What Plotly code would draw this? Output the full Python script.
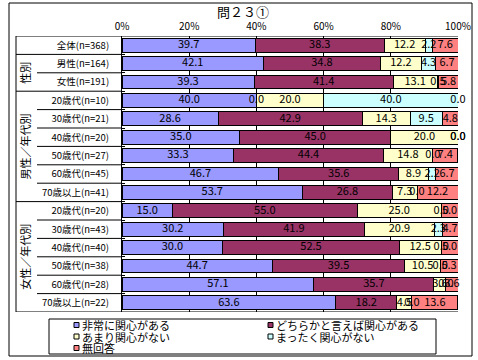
import plotly.graph_objects as go

title = "問２３①"
categories = ["全体(n=368)", "男性(n=164)", "女性(n=191)",
              "20歳代(n=10)", "30歳代(n=21)", "40歳代(n=20)", "50歳代(n=27)", "60歳代(n=45)", "70歳以上(n=41)",
              "20歳代(n=20)", "30歳代(n=43)", "40歳代(n=40)", "50歳代(n=38)", "60歳代(n=28)", "70歳以上(n=22)"]
group_names = ["", "性別", "男性／年代別", "女性／年代別"]
group_sizes = [1, 2, 6, 6]
series_names = ["非常に関心がある", "どちらかと言えば関心がある", "あまり関心がない", "まったく関心がない", "無回答"]
colors = ["#9999FF", "#993366", "#FFFFCC", "#CCFFFF", "#FF8080"]
very = [39.7, 42.1, 39.3, 40.0, 28.6, 35.0, 33.3, 46.7, 53.7, 15.0, 30.2, 30.0, 44.7, 57.1, 63.6]
somewhat = [38.3, 34.8, 41.4, 0.0, 42.9, 45.0, 44.4, 35.6, 26.8, 55.0, 41.9, 52.5, 39.5, 35.7, 18.2]
notmuch = [12.2, 12.2, 13.1, 20.0, 14.3, 20.0, 14.8, 8.9, 7.3, 25.0, 20.9, 12.5, 10.5, 3.6, 4.5]
notatall = [2.2, 4.3, 0.5, 40.0, 9.5, 0.0, 0.0, 2.2, 0.0, 0.0, 2.3, 0.0, 0.0, 0.0, 0.0]
noanswer = [7.6, 6.7, 5.8, 0.0, 4.8, 0.0, 7.4, 6.7, 12.2, 5.0, 4.7, 5.0, 5.3, 3.6, 13.6]
x_ticks = [0, 20, 40, 60, 80, 100]
x_ticktext = ["0%", "20%", "40%", "60%", "80%", "100%"]

series = [very, somewhat, notmuch, notatall, noanswer]
FONT = "Noto Sans CJK JP"

# plot area in pixels: x 122..458, y 36..312
L, R, T, B = 122, 458, 36, 312
W, H = 478, 360
def px(x):
    return (x - L) / (R - L)
def py(y):
    return (B - y) / (B - T)

fig = go.Figure()
for name, vals, col in zip(series_names, series, colors):
    fig.add_trace(go.Bar(y=categories, x=vals, name=name, orientation="h",
                         marker=dict(color=col, line=dict(color="black", width=1)),
                         showlegend=False, hoverinfo="skip"))

# data labels at segment centres
cum = [0.0] * len(categories)
for vals in series:
    mids = [c + v / 2 for c, v in zip(cum, vals)]
    fig.add_trace(go.Scatter(y=categories, x=mids, mode="text",
                             text=["%.1f" % v for v in vals],
                             textfont=dict(family=FONT, size=11, color="black"),
                             showlegend=False, hoverinfo="skip", cliponaxis=False))
    cum = [c + v for c, v in zip(cum, vals)]

shapes = []
annotations = []
n = len(categories)
group_bounds = [-0.5]
acc = -0.5
for s in group_sizes:
    acc += s
    group_bounds.append(acc)
for i in range(n + 1):
    yb = i - 0.5
    is_group = any(abs(yb - g) < 1e-9 for g in group_bounds)
    x0 = px(16) if is_group else px(37)
    x1 = 1 if (i == 0 or i == n) else 0
    shapes.append(dict(type="line", xref="paper", yref="y", x0=x0, x1=x1, y0=yb, y1=yb,
                       line=dict(color="black", width=1)))
shapes.append(dict(type="line", xref="paper", yref="y", x0=px(16), x1=px(16), y0=-0.5, y1=n - 0.5,
                   line=dict(color="black", width=1)))
start = -0.5
for gname, s in zip(group_names, group_sizes):
    if gname:
        annotations.append(dict(text=gname, xref="paper", yref="y", x=px(25), y=start + s / 2,
                                xanchor="center", yanchor="middle",
                                textangle=-90, showarrow=False,
                                font=dict(family=FONT, size=11, color="black")))
    start += s

shapes.append(dict(type="rect", xref="paper", yref="paper", x0=px(9), x1=px(472), y0=py(356), y1=py(3),
                   line=dict(color="black", width=1), fillcolor="rgba(0,0,0,0)"))
shapes.append(dict(type="rect", xref="paper", yref="paper", x0=px(49), x1=px(436), y0=py(354), y1=py(319),
                   line=dict(color="black", width=1), fillcolor="rgba(0,0,0,0)"))
leg_cols = [74, 268]
leg_rows = [325, 336.5, 348]
for i, (name, col) in enumerate(zip(series_names, colors)):
    cx = leg_cols[i % 2]
    cy = leg_rows[i // 2]
    shapes.append(dict(type="rect", xref="paper", yref="paper", x0=px(cx), x1=px(cx + 5),
                       y0=py(cy + 2.5), y1=py(cy - 2.5), line=dict(color="black", width=1), fillcolor=col))
    annotations.append(dict(text=name, xref="paper", yref="paper", x=px(cx + 6), y=py(cy),
                            xanchor="left", yanchor="middle", showarrow=False,
                            font=dict(family=FONT, size=11, color="black")))

fig.update_layout(
    width=W, height=H, barmode="stack", bargap=0.24,
    margin=dict(l=L, r=W - R, t=T, b=H - B, autoexpand=False),
    paper_bgcolor="white", plot_bgcolor="white",
    title=dict(text=title, x=243 / W, xref="container", xanchor="center",
               y=1 - 12 / H, yref="container", yanchor="middle",
               font=dict(family=FONT, size=13, color="black")),
    xaxis=dict(range=[0, 100], side="top", tickvals=x_ticks, ticktext=x_ticktext,
               showgrid=True, gridcolor="black", gridwidth=1, zeroline=False,
               showline=False, ticks="", ticklabelstandoff=3, automargin=False,
               tickfont=dict(family=FONT, size=10, color="black"), fixedrange=True),
    yaxis=dict(categoryorder="array", categoryarray=categories, range=[n - 0.5, -0.5],
               showgrid=False, zeroline=False, showline=True, linecolor="black", linewidth=1,
               ticks="inside", tickson="boundaries", ticklen=3, tickcolor="black",
               ticklabelstandoff=10, automargin=False,
               tickfont=dict(family=FONT, size=9.5, color="black"), fixedrange=True),
    shapes=shapes, annotations=annotations,
    font=dict(family=FONT, color="black"),
)
fig.write_html("out.html", config={"displayModeBar": False},
               post_script="document.body.style.margin='0px';document.body.style.overflow='hidden';")
